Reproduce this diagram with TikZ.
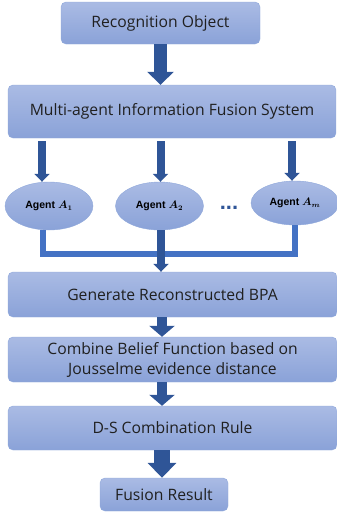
\documentclass[tikz,border=0pt]{standalone}
\usepackage{fontspec}
\setmainfont{Open Sans}
\setsansfont{Liberation Sans}
\usepackage{bm}
\usetikzlibrary{shapes.geometric,arrows.meta}
\definecolor{boxtop}{HTML}{AABBE4}
\definecolor{boxbot}{HTML}{8AA2D8}
\definecolor{boxline}{HTML}{8EA7DA}
\definecolor{arrowblue}{HTML}{2F5597}
\definecolor{lineblue}{HTML}{4472C4}
\definecolor{txt}{HTML}{202020}

\begin{document}
\begin{tikzpicture}[x=1pt,y=1pt]

      \tikzset{stepbox/.style={draw=boxline, rounded corners=5pt, top color=boxtop, bottom color=boxbot, text=txt, inner sep=0pt, font=\fontsize{15.7}{20}\selectfont, align=center},
               agent/.style={draw=boxline, ellipse, top color=boxtop, bottom color=boxbot, minimum width=88pt, minimum height=48pt, inner sep=0pt, font=\fontsize{10.5}{12}\selectfont\sffamily\bfseries},
               bigarrow/.style={draw=arrowblue, line width=13pt, -{Triangle[width=26pt,length=13pt]}},
               midarrow/.style={draw=arrowblue, line width=10pt, -{Triangle[width=25pt,length=11pt]}},
               thinarrow/.style={draw=arrowblue, line width=8pt, -{Triangle[width=15pt,length=8pt]}},
               joint/.style={draw=lineblue, line width=5.5pt}}

      \useasboundingbox (0,0) rectangle (337,-514);

%% Boxes
      	\node[stepbox, minimum width=199pt, minimum height=42pt] (b1) at (160.5,-23) {Recognition Object};
      	\node[stepbox, minimum width=328pt, minimum height=53pt] (b2) at (172,-111.5) {Multi-agent Information Fusion System};
      	\node[stepbox, minimum width=329pt, minimum height=45pt] (b3) at (172.5,-294.5) {Generate Reconstructed BPA};
      	\node[stepbox, minimum width=329pt, minimum height=45pt] (b4) at (172.5,-359.5) {Combine Belief Function based on\\Jousselme evidence distance};
      	\node[stepbox, minimum width=329pt, minimum height=44pt] (b5) at (172.5,-428) {D-S Combination Rule};
      	\node[stepbox, minimum width=128pt, minimum height=33pt] (b6) at (164,-494.5) {Fusion Result};

%% Agents
      	\node[agent] (a1) at (49,-206) {Agent $\bm{A_1}$};
      	\node[agent] (a2) at (159.5,-206) {Agent $\bm{A_2}$};
      	\node[agent, minimum height=44pt] (am) at (295,-203) {Agent $\bm{A_m}$};
      	\node[text=arrowblue, inner sep=0pt, anchor=base, font=\fontsize{22}{22}\selectfont\sffamily\bfseries] (dots) at (229,-209) {...};
      	\coordinate (j) at (160,-254);

%Edges
		\draw[bigarrow] (b1.south) -- (b1.south |- b2.north);
		\draw[thinarrow, shorten <=3pt] ([xshift=-7pt]a1.north |- b2.south) -- ([xshift=-7pt]a1.north);
		\draw[thinarrow, shorten <=3pt] ([xshift=1pt]a2.north |- b2.south) -- ([xshift=1pt]a2.north);
		\draw[thinarrow, shorten <=3pt] ([xshift=-3pt]am.north |- b2.south) -- ([xshift=-3pt]am.north);
		\draw[joint] ([xshift=-6pt]a1.south) |- (j) -| (am.south);
		\draw[thinarrow] ([xshift=1.5pt]a2.south) -- ([xshift=1.5pt]a2.south |- b3.north);
		\draw[midarrow] (b3.south -| 162,0) -- (b4.north -| 162,0);
		\draw[midarrow] (b4.south -| 162,0) -- (b5.north -| 162,0);
		\draw[bigarrow, line width=16pt, -{Triangle[width=28pt,length=15pt]}] (b5.south -| 162,0) -- (b6.north -| 162,0);
	\end{tikzpicture}
\end{document}
